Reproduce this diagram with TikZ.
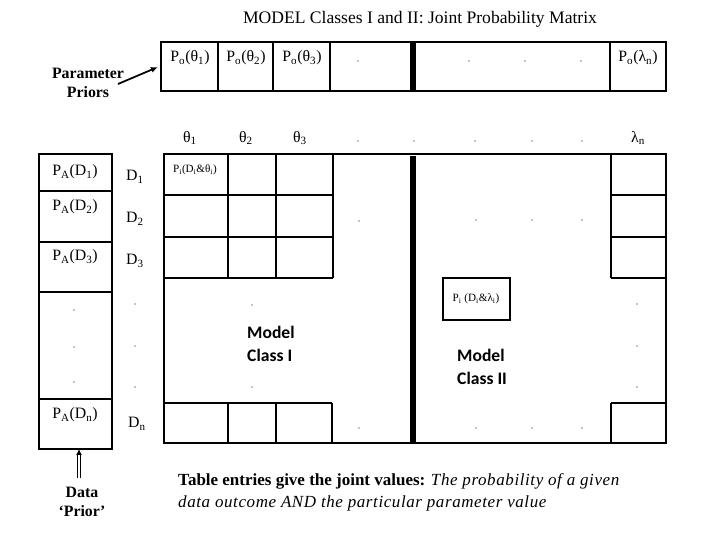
\documentclass[tikz,border=0pt]{standalone}
\usepackage{fontspec}
\setmainfont{Liberation Serif}
\newfontfamily\calfont{Carlito}
\newfontfamily\wideit[LetterSpace=3.5]{Liberation Serif Italic}
\usetikzlibrary{arrows.meta}
\newcommand\sbs[1]{\textsubscript{#1}}
\begin{document}
\begin{tikzpicture}[x=0.03cm,y=-0.03cm,
  grid/.style={line width=1.6pt},
  thickbar/.style={line width=4.5pt},
  lbl/.style={font=\fontsize{13.5}{15}\selectfont, inner sep=0pt},
  tiny/.style={font=\fontsize{9.5}{11}\selectfont, inner sep=0pt},
  boldlbl/.style={font=\fontsize{13.5}{16}\selectfont\bfseries, inner sep=0pt, align=center},
  modelcls/.style={font=\fontsize{15}{19}\selectfont\calfont\bfseries, inner sep=0pt, align=left, anchor=west},
  notetext/.style={font=\fontsize{14.5}{17}\selectfont, inner sep=0pt, anchor=west},
  dotmark/.style={fill=black},
  arr/.style={line width=1.5pt, -{Latex[length=6pt,width=5pt]}}
]
\useasboundingbox (0,0) rectangle (720,540);

% title
\node[font=\fontsize{15}{17}\selectfont, inner sep=0pt] (title) at (420,19) {MODEL Classes I and II: Joint Probability Matrix};

% prior row
\draw[grid] (161,42) rectangle (666,91);
\foreach \x in {218,273,330,610} \draw[grid] (\x,42) -- (\x,91);
\draw[thickbar] (413,42) -- (413,91);
\node[lbl] (po1) at (190,58) {P\sbs{o}(θ\sbs{1})};
\node[lbl] (po2) at (246,58) {P\sbs{o}(θ\sbs{2})};
\node[lbl] (po3) at (302,58) {P\sbs{o}(θ\sbs{3})};
\node[lbl] (pon) at (638,58) {P\sbs{o}(λ\sbs{n})};
\foreach \x in {358,469,525,581} \fill[dotmark] (\x,61) circle[radius=0.5pt];

% column labels
\node[lbl] (t1) at (190,138) {θ\sbs{1}};
\node[lbl] (t2) at (246,138) {θ\sbs{2}};
\node[lbl] (t3) at (300,138) {θ\sbs{3}};
\node[lbl] (ln) at (638,138) {λ\sbs{n}};
\foreach \x in {358,414,475,532,582} \fill[dotmark] (\x,141) circle[radius=0.5pt];

% parameter priors
\node[boldlbl] (pp) at (88,83) {Parameter\\Priors};
\coordinate (ppStart) at (118,84);
\coordinate (ppEnd) at (158,67);
\draw[arr] (ppStart) -- (ppEnd);

% main matrix
\draw[grid] (164,154) rectangle (666,443);
\foreach \y in {195,237,278} {
  \draw[grid] (164,\y) -- (333,\y);
  \draw[grid] (611,\y) -- (666,\y);
}
\foreach \x in {228,276,333} \draw[grid] (\x,154) -- (\x,278);
\draw[grid] (611,154) -- (611,278);
\draw[grid] (164,403) -- (332,403);
\foreach \x in {228,276,332} \draw[grid] (\x,403) -- (\x,443);
\draw[grid] (611,403) -- (666,403);
\draw[grid] (611,403) -- (611,443);
\draw[thickbar] (413,156) -- (413,443);

\node[tiny] (pi1) at (195,170) {P\sbs{i}(D\sbs{i}\&θ\sbs{i})};
\draw[grid] (443,278) rectangle (510,320);
\node[tiny] (pi2) at (476,299) {P\sbs{i} (D\sbs{i}\&λ\sbs{i})};

\foreach \p in {(359,221),(476,220),(532,220),(582,220),
  (637,304),(637,346),(637,387),
  (252,305),(252,387),
  (359,428),(476,428),(532,428),(582,428)}
  \fill[dotmark] \p circle[radius=0.5pt];

\node[modelcls] (mc1) at (247,344) {Model\\Class I};
\node[modelcls] (mc2) at (457,367) {Model\\Class II};

% data prior column
\draw[grid] (39,154) rectangle (112,449);
\foreach \y in {191,242,292,399} \draw[grid] (39,\y) -- (112,\y);
\node[lbl] (pa1) at (75,172) {P\sbs{A}(D\sbs{1})};
\node[lbl] (pa2) at (75,207) {P\sbs{A}(D\sbs{2})};
\node[lbl] (pa3) at (75,257) {P\sbs{A}(D\sbs{3})};
\node[lbl] (pan) at (75,415) {P\sbs{A}(D\sbs{n})};
\foreach \y in {310,347,382} \fill[dotmark] (74,\y) circle[radius=0.5pt];

% row labels
\node[lbl] (d1) at (135,177) {D\sbs{1}};
\node[lbl] (d2) at (135,219) {D\sbs{2}};
\node[lbl] (d3) at (135,261) {D\sbs{3}};
\node[lbl] (dn) at (137,424) {D\sbs{n}};
\foreach \y in {304,346,387} \fill[dotmark] (135,\y) circle[radius=0.5pt];

% data prior label and arrow
\node[boldlbl] (dp) at (82,502) {Data\\‘Prior’};
\coordinate (dpStart) at (79,478);
\coordinate (dpEnd) at (79,449);
\draw[line width=0.9pt, double distance=1.2pt, -{Latex[length=5pt,width=5pt]}] (dpStart) -- (dpEnd);

% bottom text
\node[notetext] (note1) at (178,481)
  {\textbf{Table entries give the joint values:} {\wideit The probability of a given}};
\node[notetext] (note2) at (178,503)
  {{\wideit data outcome AND the particular parameter value}};
\end{tikzpicture}
\end{document}
